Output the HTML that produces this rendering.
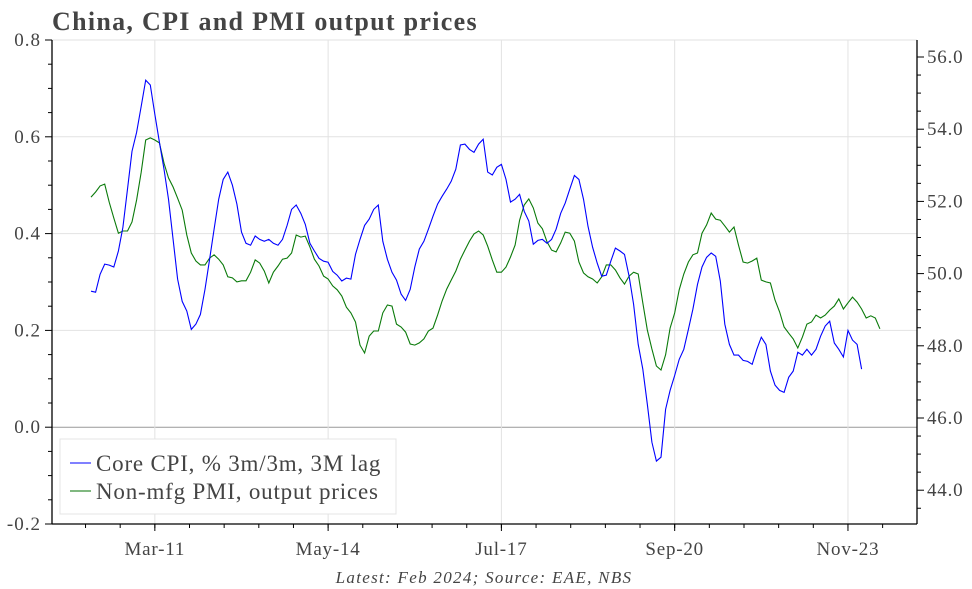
<!DOCTYPE html>
<html><head><meta charset="utf-8"><style>
html,body{margin:0;padding:0;background:#fff;}
svg{display:block;font-family:"Liberation Serif",serif;}
</style></head><body>
<svg id="chart" width="972" height="589" viewBox="0 0 972 589" xmlns="http://www.w3.org/2000/svg">
<text x="52" y="30" font-size="26" font-weight="bold" letter-spacing="1.3" fill="#444">China, CPI and PMI output prices</text>
<g id="grid"></g>
<g id="axes"></g>
<g id="series"></g>
<g>
<rect x="60" y="439" width="336" height="75" fill="#fff" stroke="#e4e4e4"/>
<line x1="70" y1="463" x2="91" y2="463" stroke="#0000ff"/>
<text x="96" y="471" font-size="23" letter-spacing="0.8" fill="#444">Core CPI, % 3m/3m, 3M lag</text>
<line x1="70" y1="491" x2="91" y2="491" stroke="#007000"/>
<text x="96" y="499" font-size="23" letter-spacing="0.8" fill="#444">Non-mfg PMI, output prices</text>
</g>
<text x="484" y="583" font-size="17" font-style="italic" letter-spacing="1.3" fill="#444" text-anchor="middle">Latest: Feb 2024; Source: EAE, NBS</text>
</svg>
<script>
const leftTicks=[0.8,0.6,0.4,0.2,0.0,-0.2];
const leftTickLabels=["0.8","0.6","0.4","0.2","0.0","-0.2"];
const rightTicks=[56,54,52,50,48,46,44];
const rightTickLabels=["56.0","54.0","52.0","50.0","48.0","46.0","44.0"];
const xTickMonths=[14,52,90,128,166];
const xTickLabels=["Mar-11","May-14","Jul-17","Sep-20","Nov-23"];
const cpiValues=[0.281,0.279,0.316,0.337,0.335,0.331,0.364,0.413,0.492,0.570,0.609,0.663,0.717,0.707,0.647,0.589,0.533,0.471,0.388,0.306,0.260,0.240,0.202,0.213,0.233,0.285,0.347,0.409,0.471,0.512,0.527,0.500,0.461,0.403,0.380,0.376,0.395,0.388,0.384,0.388,0.380,0.376,0.388,0.417,0.450,0.459,0.442,0.419,0.380,0.364,0.349,0.343,0.341,0.322,0.314,0.302,0.308,0.306,0.357,0.388,0.417,0.430,0.450,0.459,0.384,0.347,0.320,0.304,0.275,0.262,0.285,0.331,0.368,0.384,0.409,0.436,0.461,0.477,0.492,0.508,0.533,0.583,0.585,0.574,0.568,0.585,0.595,0.527,0.521,0.537,0.543,0.512,0.465,0.471,0.481,0.446,0.426,0.378,0.386,0.388,0.380,0.388,0.409,0.442,0.463,0.492,0.520,0.512,0.471,0.415,0.372,0.339,0.312,0.314,0.343,0.370,0.364,0.357,0.312,0.254,0.171,0.120,0.048,-0.031,-0.070,-0.062,0.037,0.076,0.107,0.140,0.161,0.202,0.244,0.295,0.331,0.351,0.360,0.353,0.302,0.213,0.171,0.149,0.149,0.138,0.136,0.130,0.161,0.186,0.171,0.116,0.087,0.076,0.072,0.103,0.116,0.155,0.149,0.161,0.149,0.161,0.188,0.209,0.219,0.174,0.161,0.145,0.200,0.180,0.171,0.120];
const pmiValues=[52.12,52.26,52.43,52.48,51.98,51.54,51.12,51.18,51.18,51.43,52.04,52.81,53.70,53.76,53.70,53.62,53.06,52.65,52.40,52.09,51.76,51.07,50.57,50.35,50.24,50.24,50.43,50.52,50.40,50.24,49.91,49.88,49.77,49.80,49.80,50.04,50.38,50.29,50.07,49.74,50.04,50.21,50.40,50.43,50.57,51.07,51.01,51.04,50.74,50.40,50.21,49.93,49.85,49.66,49.55,49.38,49.07,48.91,48.66,48.02,47.80,48.27,48.41,48.41,48.91,49.13,49.10,48.60,48.52,48.38,48.05,48.02,48.08,48.19,48.41,48.49,48.85,49.24,49.57,49.82,50.07,50.40,50.65,50.90,51.10,51.18,51.07,50.76,50.38,50.04,50.04,50.18,50.46,50.79,51.48,51.90,52.07,51.82,51.40,51.24,50.88,50.65,50.60,50.85,51.15,51.12,50.90,50.32,50.02,49.91,49.85,49.74,49.91,50.24,50.24,50.10,49.88,49.71,49.93,50.04,49.99,49.19,48.44,47.91,47.44,47.33,47.75,48.49,48.91,49.55,49.99,50.32,50.52,50.57,51.12,51.35,51.68,51.51,51.48,51.32,51.15,51.29,50.79,50.32,50.29,50.35,50.43,49.82,49.77,49.74,49.27,48.94,48.52,48.35,48.19,47.94,48.24,48.60,48.66,48.85,48.77,48.85,48.99,49.10,49.30,49.02,49.19,49.35,49.21,49.02,48.77,48.83,48.77,48.47];

const L=52,R=917,T=40,B=524;
const xScale=m=>91+m*4.56;
const yLeft=v=>T+(0.8-v)*(B-T)/1.0;
const yRight=v=>418-(v-46)*36.1;
const NS="http://www.w3.org/2000/svg";
function mk(tag,attrs,parent){const e=document.createElementNS(NS,tag);for(const k in attrs)e.setAttribute(k,attrs[k]);parent.appendChild(e);return e;}
const grid=document.getElementById('grid'),axes=document.getElementById('axes'),ser=document.getElementById('series');

leftTicks.forEach((v,i)=>{
  const y=yLeft(v);
  if(v>-0.2){const g=mk('line',{x1:L,x2:R,y1:y,y2:y,stroke:v===0?'#999':'#e2e2e2','stroke-width':1},grid);
  
  }
  const t=mk('line',{x1:L-7,x2:L,y1:y,y2:y,stroke:'#000'},axes);
  
  
  const tx=mk('text',{x:L-11,y:y+6,'font-size':19,'letter-spacing':1,fill:'#444','text-anchor':'end'},axes);
  tx.textContent=leftTickLabels[i];
  
  
});
for(let k=0;k<20;k++){const y=yLeft(0.8-k*0.05);if(k%4===0)continue;
  const t=mk('line',{x1:L-4,x2:L,y1:y,y2:y,stroke:'#000'},axes);
  
  }
rightTicks.forEach((v,i)=>{
  const y=yRight(v);
  const t=mk('line',{x1:R,x2:R+7,y1:y,y2:y,stroke:'#000'},axes);
  
  
  const tx=mk('text',{x:R+10,y:y+6,'font-size':19,'letter-spacing':0.8,fill:'#444'},axes);
  tx.textContent=rightTickLabels[i];
  
  
});
for(let v=43.5;v<=56.5;v+=0.5){if(v%2===0)continue;const y=yRight(v);if(y<T||y>B)continue;
  const t=mk('line',{x1:R,x2:R+4,y1:y,y2:y,stroke:'#000'},axes);
  
  }
xTickMonths.forEach((m,i)=>{
  const x=xScale(m);
  const g=mk('line',{x1:x,x2:x,y1:T,y2:B,stroke:'#e2e2e2'},grid);
  
  
  const t=mk('line',{x1:x,x2:x,y1:B,y2:B+7,stroke:'#000'},axes);
  
  
  const tx=mk('text',{x:x,y:B+31,'font-size':19,'letter-spacing':0.8,fill:'#444','text-anchor':'middle'},axes);
  tx.textContent=xTickLabels[i];
  
  
});
for(let m=14-7.6*2;m<=180;m+=7.6){const x=xScale(m);if(x<L||x>R)continue;
  const t=mk('line',{x1:x,x2:x,y1:B,y2:B+4,stroke:'#000'},axes);
  
  }
const a1=mk('line',{x1:L,x2:L,y1:T,y2:B,stroke:'#000','stroke-width':1.3},axes);


const a2=mk('line',{x1:R,x2:R,y1:T,y2:B,stroke:'#000','stroke-width':1.3},axes);


const a3=mk('line',{x1:L,x2:R,y1:B,y2:B,stroke:'#000','stroke-width':1.3},axes);



const pg=mk('polyline',{points:pmiValues.map((v,i)=>xScale(i).toFixed(1)+','+yRight(v).toFixed(1)).join(' '),fill:'none',stroke:'#0a7a0a','stroke-width':1.1},ser);


const pb=mk('polyline',{points:cpiValues.map((v,i)=>xScale(i).toFixed(1)+','+yLeft(v).toFixed(1)).join(' '),fill:'none',stroke:'#0000ff','stroke-width':1.1},ser);


</script>
</body></html>
